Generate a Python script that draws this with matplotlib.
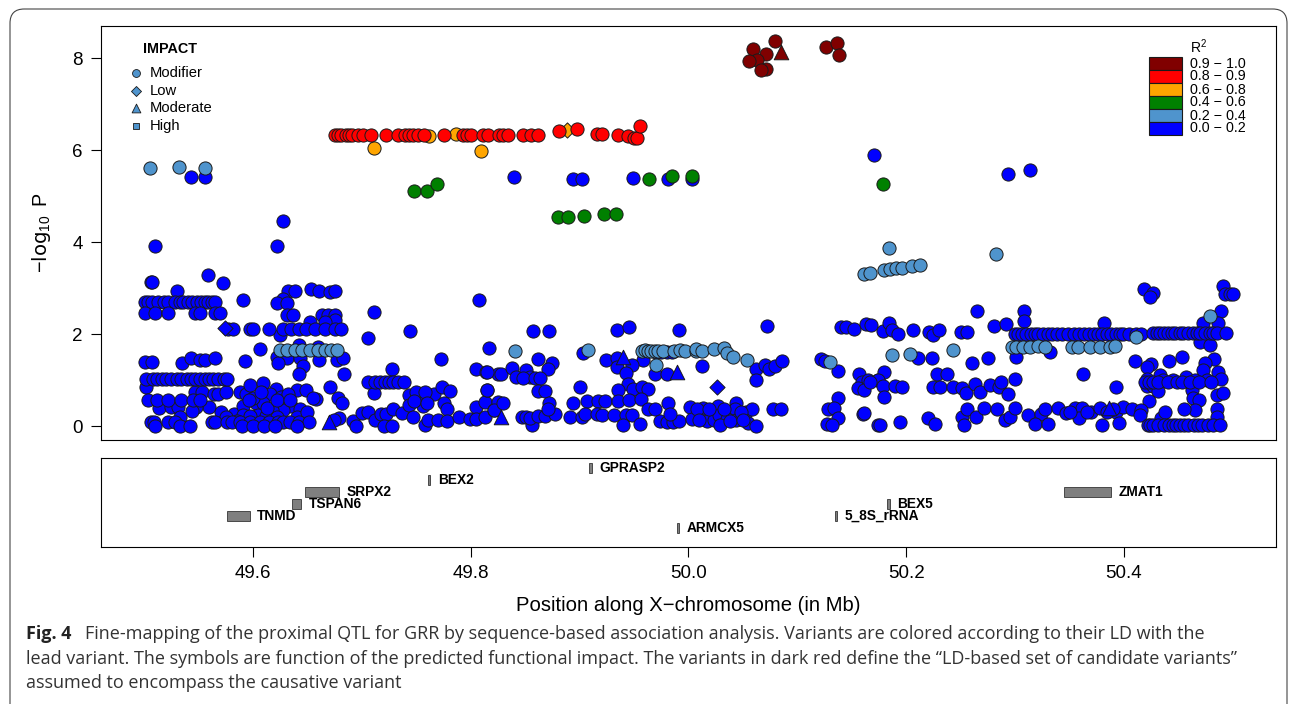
import matplotlib
matplotlib.use('Agg')
import matplotlib.pyplot as plt
from matplotlib.patches import FancyBboxPatch, Rectangle

plt.rcParams['font.family'] = ['Liberation Sans', 'DejaVu Sans']
plt.rcParams['mathtext.default'] = 'regular'

# rows of variants sharing almost the same -log10 P
blue_270 = [49.501, 49.504, 49.507, 49.513, 49.518, 49.522, 49.528, 49.533, 49.536, 49.540, 49.544, 49.549, 49.552, 49.556, 49.559, 49.562, 49.565]
blue_246 = [49.501, 49.510, 49.522, 49.547, 49.551, 49.565, 49.570]
blue_210 = [49.577, 49.582, 49.597, 49.600, 49.615, 49.628, 49.635, 49.642, 49.649, 49.657, 49.666, 49.675, 49.681]
blue_103 = [49.502, 49.508, 49.512, 49.516, 49.520, 49.525, 49.530, 49.534, 49.539, 49.543, 49.547, 49.551, 49.556, 49.560, 49.563, 49.568, 49.573, 49.576]
blue_096 = [49.706, 49.712, 49.717, 49.721, 49.725, 49.729, 49.733, 49.739]
blue_056 = [49.504, 49.512, 49.522, 49.534, 49.545, 49.551, 49.622, 49.634, 49.596]
blue_008 = [49.506, 49.509, 49.522, 49.528, 49.562, 49.565, 49.576, 49.581, 49.588, 49.597, 49.606, 49.615, 49.623, 49.628, 49.634, 49.642, 49.651]
blue_000 = [49.510, 49.533, 49.542, 49.590, 49.600, 49.610, 49.620, 49.640]
blue_200 = [50.300, 50.303, 50.306, 50.310, 50.315, 50.318, 50.321, 50.326, 50.330, 50.334, 50.338, 50.343, 50.349, 50.354, 50.359, 50.363, 50.368,
            50.372, 50.376, 50.380, 50.384, 50.388, 50.393, 50.396, 50.399, 50.405, 50.411, 50.416]
blue_203 = [50.427, 50.430, 50.433, 50.437, 50.440, 50.444, 50.447, 50.451, 50.454, 50.459, 50.463, 50.467, 50.470, 50.474, 50.479, 50.482, 50.485, 50.494]
blue_003 = [50.422, 50.424, 50.427, 50.431, 50.437, 50.441, 50.445, 50.448, 50.451, 50.455, 50.459, 50.464, 50.468, 50.472, 50.477, 50.482, 50.488]
blue_100 = [50.419, 50.423, 50.427, 50.431, 50.440, 50.449, 50.453, 50.461, 50.469, 50.480]
blue_rows = [(2.70, blue_270), (2.46, blue_246), (2.10, blue_210), (1.03, blue_103), (0.96, blue_096), (0.56, blue_056),
             (0.08, blue_008), (0.00, blue_000), (2.00, blue_200), (2.03, blue_203), (0.03, blue_003), (0.95, blue_100)]

blue_left = [(49.510, 3.91), (49.506, 3.13), (49.559, 3.28), (49.507, 3.12), (49.572, 3.10), (49.530, 2.94), (49.622, 3.91), (49.628, 4.45),
             (49.543, 5.41), (49.556, 5.41), (49.632, 2.94), (49.639, 2.94), (49.653, 2.98), (49.661, 2.93), (49.671, 2.92), (49.675, 2.93),
             (49.628, 2.77), (49.622, 2.67), (49.631, 2.68), (49.591, 2.74), (49.808, 2.74), (49.711, 2.47), (49.631, 2.41), (49.637, 2.41),
             (49.663, 2.41), (49.669, 2.42), (49.675, 2.42), (49.652, 2.27), (49.675, 2.30), (49.666, 2.27), (49.625, 1.98), (49.744, 2.06),
             (49.706, 1.91), (49.817, 1.69), (49.606, 1.67), (49.642, 1.76), (49.660, 1.72), (49.622, 1.49), (49.631, 1.47), (49.643, 1.47),
             (49.661, 1.43), (49.677, 1.43), (49.683, 1.47), (49.623, 1.38), (49.593, 1.41), (49.773, 1.45), (49.501, 1.40), (49.507, 1.40),
             (49.535, 1.38), (49.543, 1.47), (49.551, 1.43), (49.556, 1.43), (49.565, 1.47), (49.646, 1.30), (49.642, 1.14), (49.684, 1.14),
             (49.728, 1.25), (49.805, 1.24), (49.814, 1.18), (49.825, 1.12), (49.502, 0.85), (49.711, 0.72)]
blue_low = [(49.547, 0.74), (49.553, 0.74), (49.564, 0.69), (49.568, 0.69), (49.575, 0.74), (49.588, 0.74), (49.594, 0.69), (49.597, 0.89),
            (49.609, 0.93), (49.621, 0.80), (49.616, 0.69), (49.640, 0.78), (49.649, 0.78), (49.658, 0.59), (49.671, 0.84), (49.678, 0.61),
            (49.682, 0.50), (49.560, 0.42), (49.514, 0.40), (49.525, 0.42), (49.531, 0.42), (49.548, 0.42), (49.544, 0.33), (49.571, 0.31),
            (49.583, 0.27), (49.591, 0.43), (49.603, 0.49), (49.635, 0.44), (49.643, 0.38), (49.628, 0.35), (49.617, 0.35), (49.605, 0.24),
            (49.591, 0.24), (49.609, 0.49), (49.533, 0.20), (49.597, 0.22), (49.612, 0.22), (49.622, 0.20), (49.640, 0.20), (49.575, 0.20),
            (49.679, 0.17), (49.674, 0.13), (49.692, 0.11), (49.695, 0.00), (49.700, 0.29), (49.706, 0.30), (49.712, 0.13), (49.718, 0.27),
            (49.722, 0.27), (49.720, 0.00), (49.728, 0.00), (49.729, 0.38), (49.737, 0.29), (49.743, 0.67), (49.752, 0.58), (49.766, 0.69),
            (49.756, 0.43), (49.743, 0.45), (49.775, 0.50), (49.774, 0.85), (49.781, 0.77), (49.778, 0.38), (49.747, 0.20), (49.758, 0.03),
            (49.761, 0.14), (49.770, 0.14), (49.778, 0.11), (49.789, 0.20), (49.799, 0.15), (49.805, 0.42), (49.805, 0.15), (49.813, 0.20),
            (49.813, 0.53), (49.815, 0.78), (49.821, 0.35), (49.825, 0.53), (49.750, 0.75), (49.758, 0.74), (49.748, 0.55), (49.760, 0.50),
            (49.600, 0.60), (49.607, 0.75), (49.613, 0.40), (49.626, 0.62), (49.650, 0.30), (49.585, 0.10), (49.655, 0.60), (49.632, 0.70)]
blue_mid = [(49.840, 5.42), (49.894, 5.38), (49.902, 5.38), (49.949, 5.40), (49.981, 5.38), (50.003, 5.38), (49.857, 2.07), (49.872, 2.07),
            (49.934, 2.09), (49.945, 2.16), (49.991, 2.09), (50.072, 2.18), (49.903, 1.58), (49.958, 1.43), (49.924, 1.43), (49.934, 1.47),
            (49.934, 1.29), (49.948, 1.33), (49.943, 1.16), (49.944, 0.92), (49.949, 0.80), (49.957, 0.85), (49.963, 0.80), (49.969, 1.14),
            (49.980, 1.14), (50.012, 1.31), (49.815, 1.18), (49.828, 1.12), (49.838, 1.27), (49.842, 1.06), (49.851, 1.22), (49.854, 1.06),
            (49.862, 1.45), (49.875, 1.36), (49.871, 1.23), (49.848, 1.05), (49.859, 1.05), (49.864, 1.05), (49.862, 0.77), (49.868, 0.77),
            (49.900, 0.84), (49.935, 0.78), (49.872, 0.50), (49.815, 0.78), (49.980, 1.60), (49.985, 1.60), (49.975, 1.60), (49.970, 1.60),
            (49.894, 0.49), (49.907, 0.54), (49.917, 0.54), (49.923, 0.54), (49.935, 0.54), (49.945, 0.56), (49.956, 0.58), (49.963, 0.38),
            (49.969, 0.38), (49.981, 0.49), (49.891, 0.19), (49.902, 0.19), (49.905, 0.27), (49.916, 0.26), (49.921, 0.25), (49.932, 0.24),
            (49.943, 0.25), (49.948, 0.25), (49.940, 0.02), (49.955, 0.04), (49.847, 0.20), (49.851, 0.20), (49.856, 0.02), (49.854, 0.17),
            (49.862, 0.22), (49.868, 0.22), (49.877, 0.27), (49.871, 0.38), (49.821, 0.35), (49.830, 0.50), (49.974, 0.11), (49.980, 0.09),
            (49.986, 0.09), (49.991, 0.11), (49.983, 0.27), (50.001, 0.42), (50.013, 0.40), (50.027, 0.43), (50.044, 0.50), (50.043, 0.36),
            (50.053, 0.31), (50.058, 0.36), (50.003, 0.16), (50.017, 0.11), (50.023, 0.13), (50.028, 0.25), (50.035, 0.16), (50.044, 0.13),
            (50.055, 0.07), (50.062, 0.00), (50.029, 0.02), (50.078, 0.37), (50.085, 0.37), (50.062, 1.23), (50.070, 1.33), (50.074, 1.24),
            (50.079, 1.31), (50.086, 1.41), (50.062, 1.01), (50.122, 1.45), (50.125, 1.42), (50.137, 1.20), (50.140, 2.16), (50.145, 2.16),
            (50.152, 2.10), (50.163, 2.21), (50.168, 2.20), (50.157, 1.14), (50.159, 0.96), (50.165, 1.00), (50.174, 1.00), (50.156, 0.82),
            (50.161, 0.78), (50.137, 0.61), (50.128, 0.36), (50.134, 0.40), (50.137, 0.18), (50.127, 0.04), (50.132, 0.02), (50.160, 0.27),
            (50.174, 0.02), (50.008, 0.38), (50.019, 0.38), (50.033, 0.38), (50.048, 0.30), (50.038, 0.10), (50.050, 0.12), (50.010, 0.14)]
blue_right = [(50.170, 5.89), (50.293, 5.48), (50.314, 5.57), (50.418, 2.98), (50.427, 2.90), (50.424, 2.80), (50.491, 3.04), (50.493, 2.88),
              (50.497, 2.88), (50.500, 2.88), (50.489, 2.50), (50.265, 2.51), (50.308, 2.50), (50.308, 2.29), (50.281, 2.17), (50.292, 2.22),
              (50.179, 2.06), (50.184, 2.23), (50.187, 2.09), (50.192, 1.99), (50.206, 2.09), (50.221, 2.05), (50.225, 1.98), (50.230, 2.09),
              (50.250, 2.05), (50.256, 2.05), (50.382, 2.23), (50.473, 2.23), (50.486, 2.23), (50.470, 1.83), (50.479, 1.76), (50.211, 1.47),
              (50.224, 1.47), (50.260, 1.38), (50.275, 1.47), (50.301, 1.49), (50.332, 1.61), (50.410, 1.41), (50.425, 1.34), (50.421, 1.29),
              (50.441, 1.41), (50.453, 1.49), (50.483, 1.45), (50.474, 1.36), (50.362, 1.12), (50.393, 0.84), (50.300, 1.03), (50.180, 1.17),
              (50.174, 1.01), (50.167, 0.96), (50.179, 0.87), (50.190, 0.87), (50.196, 0.85), (50.180, 0.62), (50.228, 1.14), (50.237, 1.13),
              (50.225, 0.85), (50.231, 0.85), (50.243, 0.84), (50.251, 0.82), (50.255, 0.71), (50.263, 0.91), (50.268, 0.73), (50.277, 0.89),
              (50.285, 0.85), (50.287, 0.96), (50.293, 0.69), (50.421, 1.03), (50.421, 0.87), (50.427, 0.87), (50.433, 1.11), (50.436, 1.00),
              (50.445, 1.00), (50.457, 1.07), (50.465, 1.00), (50.473, 1.22), (50.486, 1.17), (50.489, 1.02), (50.476, 1.00), (50.462, 0.78),
              (50.485, 0.67), (50.491, 0.71), (50.463, 0.60), (50.469, 0.56), (50.465, 0.35), (50.455, 0.37), (50.423, 0.54), (50.431, 0.77),
              (50.434, 0.17), (50.438, 0.30), (50.485, 0.36), (50.485, 0.20), (50.312, 0.24), (50.324, 0.27), (50.327, 0.38), (50.339, 0.40),
              (50.347, 0.29), (50.355, 0.40), (50.361, 0.40), (50.359, 0.17), (50.370, 0.30), (50.378, 0.40), (50.393, 0.31), (50.399, 0.42),
              (50.407, 0.37), (50.416, 0.35), (50.318, 0.04), (50.330, 0.04), (50.380, 0.02), (50.395, 0.07), (50.161, 0.29), (50.176, 0.02),
              (50.194, 0.09), (50.220, 0.18), (50.226, 0.04), (50.251, 0.20), (50.253, 0.02), (50.256, 0.38), (50.264, 0.19), (50.271, 0.40),
              (50.283, 0.36), (50.291, 0.13), (50.295, 0.20), (50.300, 0.40), (50.350, 0.30), (50.366, 0.30), (50.384, 0.30), (50.390, 0.38), (50.415, 0.25)]

light = [(49.505, 5.60), (49.532, 5.62), (49.556, 5.60), (49.625, 1.65), (49.631, 1.65), (49.639, 1.65), (49.645, 1.65), (49.652, 1.65),
         (49.660, 1.65), (49.666, 1.65), (49.672, 1.65), (49.677, 1.65), (49.841, 1.64), (49.908, 1.65), (49.957, 1.62), (49.960, 1.66),
         (49.963, 1.62), (49.966, 1.62), (49.969, 1.62), (49.972, 1.62), (49.977, 1.62), (49.987, 1.62), (49.992, 1.66), (49.997, 1.62),
         (50.007, 1.62), (50.007, 1.67), (50.012, 1.62), (50.023, 1.67), (50.033, 1.69), (50.035, 1.58), (50.041, 1.49), (50.054, 1.43),
         (49.970, 1.33), (50.130, 1.40), (50.184, 3.87), (50.282, 3.74), (50.161, 3.30), (50.167, 3.33), (50.180, 3.39), (50.185, 3.41),
         (50.191, 3.43), (50.196, 3.43), (50.205, 3.48), (50.213, 3.50), (50.187, 1.54), (50.203, 1.56), (50.243, 1.65), (50.297, 1.71),
         (50.301, 1.71), (50.307, 1.71), (50.314, 1.71), (50.321, 1.74), (50.327, 1.71), (50.352, 1.71), (50.358, 1.71), (50.369, 1.71),
         (50.378, 1.71), (50.387, 1.71), (50.392, 1.75), (50.411, 1.93), (50.479, 2.40)]
green = [(49.964, 5.38), (49.985, 5.43), (50.003, 5.43), (49.748, 5.11), (49.760, 5.11), (49.769, 5.27), (49.880, 4.55), (49.889, 4.55),
         (49.904, 4.57), (49.922, 4.60), (49.933, 4.61), (50.179, 5.26)]
orange = [(49.762, 6.31), (49.786, 6.35), (49.711, 6.05), (49.809, 5.98)]
red_632 = [49.675, 49.678, 49.681, 49.685, 49.688, 49.691, 49.696, 49.701, 49.708, 49.722, 49.733, 49.740, 49.743, 49.747, 49.752, 49.757, 49.775,
           49.793, 49.797, 49.800, 49.811, 49.816, 49.826, 49.830, 49.834, 49.848, 49.855, 49.862]
red_other = [(49.881, 6.41), (49.898, 6.45), (49.916, 6.34), (49.921, 6.34), (49.935, 6.32), (49.944, 6.31), (49.950, 6.27), (49.953, 6.27), (49.955, 6.52)]
darkred = [(50.059, 8.20), (50.079, 8.37), (50.071, 8.09), (50.063, 7.96), (50.056, 7.93), (50.071, 7.76), (50.067, 7.74), (50.126, 8.24), (50.136, 8.33), (50.138, 8.07)]

# moderate and low impact variants
tri_blue = [(49.670, 0.09), (49.828, 0.20), (49.940, 1.49), (49.989, 1.18), (50.386, 0.40)]
dia_blue = [(49.574, 2.12), (50.026, 0.85)]
dia_orange = [(49.888, 6.43)]
tri_darkred = [(50.085, 8.14)]

genes = ['TNMD', 'TSPAN6', 'SRPX2', 'BEX2', 'GPRASP2', 'ARMCX5', '5_8S_rRNA', 'BEX5', 'ZMAT1']
gene_start = [49.576, 49.636, 49.648, 49.761, 49.909, 49.989, 50.135, 50.182, 50.345]
gene_end = [49.597, 49.644, 49.679, 49.763, 49.911, 49.991, 50.136, 50.185, 50.388]
gene_row = [2, 3, 4, 5, 6, 1, 2, 3, 4]

r2_labels = ['0.9 \u2212 1.0', '0.8 \u2212 0.9', '0.6 \u2212 0.8', '0.4 \u2212 0.6', '0.2 \u2212 0.4', '0.0 \u2212 0.2']
r2_colors = ['#800000', '#FF0000', '#FFA500', '#008000', '#4F94CD', '#0000FF']
impact_labels = ['Modifier', 'Low', 'Moderate', 'High']
impact_markers = ['o', 'D', '^', 's']

caption = ['Fine-mapping of the proximal QTL for GRR by sequence-based association analysis. Variants are colored according to their LD with the',
           'lead variant. The symbols are function of the predicted functional impact. The variants in dark red define the \u201cLD-based set of candidate variants\u201d',
           'assumed to encompass the causative variant']

W, H = 1295, 704
fig = plt.figure(figsize=(W / 100, H / 100), dpi=100)


def px_axes(x0, y0, x1, y1):
    return fig.add_axes([x0 / W, 1 - y1 / H, (x1 - x0) / W, (y1 - y0) / H])


def scatter(ax, pts, color, marker='o', size=90):
    ax.scatter([p[0] for p in pts], [p[1] for p in pts], s=size, c=color, marker=marker,
               edgecolors='#1a1a1a', linewidths=0.7, clip_on=False, zorder=3)


ax = px_axes(101, 26, 1276, 440)
blue_all = blue_left + blue_low + blue_mid + blue_right
for p, xs in blue_rows:
    blue_all = blue_all + [(x, p) for x in xs]
scatter(ax, blue_all, '#0000FF')
scatter(ax, tri_blue, '#0000FF', '^', 110)
scatter(ax, dia_blue, '#0000FF', 'D', 60)
scatter(ax, light, '#4F94CD')
scatter(ax, green, '#008000')
scatter(ax, dia_orange, '#FFA500', 'D', 60)
scatter(ax, orange, '#FFA500')
scatter(ax, [(x, 6.32) for x in red_632] + red_other, '#FF0000')
scatter(ax, tri_darkred, '#800000', '^', 110)
scatter(ax, darkred, '#800000')
ax.set_xlim(49.4604, 50.5396)
ax.set_ylim(-0.304, 8.696)
ax.set_xticks([])
ax.set_yticks([0, 2, 4, 6, 8])
ax.tick_params(axis='y', length=7, width=0.8, labelsize=13.5, pad=6)
ax.set_ylabel(r'$-\log_{10}$ P', fontsize=14.2, labelpad=14)

# left legend, placed in pixels
ax.text(170 / W, 1 - 49 / H, 'IMPACT', transform=fig.transFigure, ha='center', va='center', fontsize=10.4, fontweight='bold')
for i, lab in enumerate(impact_labels):
    y = [73, 91, 108, 126][i]
    ax.scatter([136 / W], [1 - y / H], transform=fig.transFigure, s=[32, 26, 40, 24][i], c='#4F94CD',
               marker=impact_markers[i], edgecolors='#1a1a1a', linewidths=0.6, zorder=5)
    ax.text(150 / W, 1 - y / H, lab, transform=fig.transFigure, va='center', fontsize=10.6)

# R2 legend
fig.text(1190 / W, 1 - 47 / H, 'R$^{2}$', va='center', fontsize=10)
for i, lab in enumerate(r2_labels):
    y0 = 57 + 13 * i
    fig.add_artist(Rectangle((1149 / W, 1 - (y0 + 13) / H), 33 / W, 13 / H, transform=fig.transFigure,
                             facecolor=r2_colors[i], edgecolor='#1a1a1a', linewidth=0.8))
    fig.text(1190 / W, 1 - (y0 + 6.5) / H, lab, va='center', fontsize=10.3)

gx = px_axes(101, 458, 1276, 547)
for name, s, e, r in zip(genes, gene_start, gene_end, gene_row):
    gx.add_patch(Rectangle((s, r - 0.42), e - s, 0.84, facecolor='#7F7F7F', edgecolor='#1a1a1a', linewidth=0.5))
    gx.text(e + 0.007, r, name, va='center', fontsize=9.9, fontweight='bold')
gx.set_xlim(49.4604, 50.5396)
gx.set_ylim(-0.583, 6.833)
gx.set_yticks([])
gx.set_xticks([49.6, 49.8, 50.0, 50.2, 50.4])
gx.set_xticklabels(['49.6', '49.8', '50.0', '50.2', '50.4'])
gx.tick_params(axis='x', length=7, width=0.8, labelsize=13.5, pad=6)
gx.set_xlabel('Position along X\u2212chromosome (in Mb)', fontsize=14.6, labelpad=10)

for a in (ax, gx):
    for sp in a.spines.values():
        sp.set_linewidth(0.8)

# caption and rounded frame of the journal figure
fig.text(26 / W, 1 - 634 / H, 'Fig. 4', family='Open Sans', fontweight='bold', fontsize=13, va='center', color='#222222')
fig.text(85 / W, 1 - 634 / H, caption[0], family='Open Sans', fontsize=13, va='center', color='#333333')
fig.text(26 / W, 1 - 659 / H, caption[1], family='Open Sans', fontsize=13, va='center', color='#333333')
fig.text(26 / W, 1 - 683 / H, caption[2], family='Open Sans', fontsize=13, va='center', color='#333333')

fig.add_artist(FancyBboxPatch((10 / W, -0.2), 1277 / W, 1 + 0.2 - 9 / H, boxstyle='round,pad=0,rounding_size=0.011',
                              transform=fig.transFigure, facecolor='none', edgecolor='#444444', linewidth=0.8,
                              mutation_aspect=1.84))

fig.savefig('out.png', dpi=100)
